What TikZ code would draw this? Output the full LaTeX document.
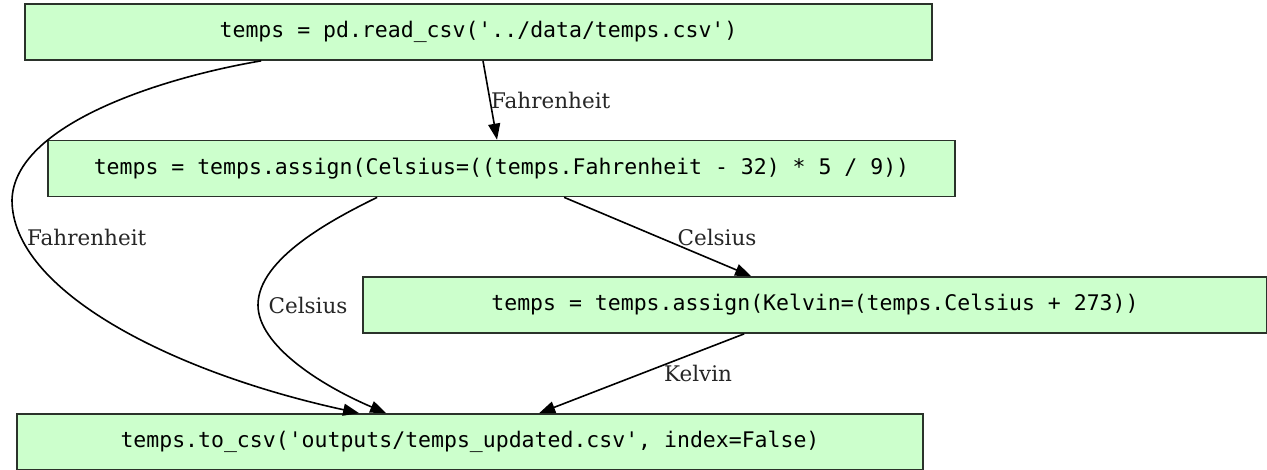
\documentclass[tikz,border=0pt]{standalone}
\usepackage{fontspec}
\setmonofont{DejaVu Sans Mono}
\newfontfamily\edgefont{DejaVu Serif}
\usetikzlibrary{arrows.meta,calc}
\definecolor{stepfill}{HTML}{CCFFCC}
\definecolor{stepline}{HTML}{2A322A}
\tikzset{
  stepbox/.style={draw=stepline, line width=1.7pt, fill=stepfill, inner sep=0pt,
    minimum height=56pt, font=\ttfamily\fontsize{21.5}{26}\selectfont, text=black},
  flow/.style={draw=black, line width=1.6pt, -{Triangle[length=16pt,width=12pt]}},
  flowlabel/.style={inner sep=0pt, font=\edgefont\fontsize{21.5}{26}\selectfont, text=black!85}
}
\begin{document}
\begin{tikzpicture}[x=1pt,y=-1pt]
\clip (0,0) rectangle (1267,469);
\fill[white] (0,0) rectangle (1267,469);

% pipeline steps
\node[stepbox, minimum width=907pt] (read) at (478.5,32) {temps = pd.read\_csv('../data/temps.csv')};
\node[stepbox, minimum width=907pt] (cels) at (501.5,168.5) {temps = temps.assign(Celsius=((temps.Fahrenheit - 32) * 5 / 9))};
\node[stepbox, minimum width=904pt] (kelv) at (815,305) {temps = temps.assign(Kelvin=(temps.Celsius + 273))};
\node[stepbox, minimum width=906pt] (save) at (470,442) {temps.to\_csv('outputs/temps\_updated.csv', index=False)};

% column flows between steps
\draw[flow] ([xshift=4.5pt]read.south) -- ([xshift=-4.5pt]cels.north);
\node[flowlabel, anchor=west] (l1) at (491,100) {Fahrenheit};

\draw[flow] ($(read.south west)+(237,0)$)
  .. controls (160,78) and (14,125) .. (12,200)
  .. controls (12,290) and (170,372) .. ($(save.north west)+(343,0)$);
\node[flowlabel, anchor=west] (l2) at (27,237) {Fahrenheit};

\draw[flow] ($(cels.south west)+(330,0)$)
  .. controls (335,218) and (258,258) .. (258,305)
  .. controls (258,345) and (320,385) .. ($(save.north west)+(370,0)$);
\node[flowlabel] (l3) at (308,305) {Celsius};

\draw[flow] ($(cels.south west)+(517,0)$) -- ($(kelv.north west)+(389,0)$);
\node[flowlabel] (l4) at (717,237) {Celsius};

\draw[flow] ($(kelv.south west)+(382,0)$) -- ($(save.north west)+(523,0)$);
\node[flowlabel] (l5) at (698,373) {Kelvin};
\end{tikzpicture}
\end{document}
